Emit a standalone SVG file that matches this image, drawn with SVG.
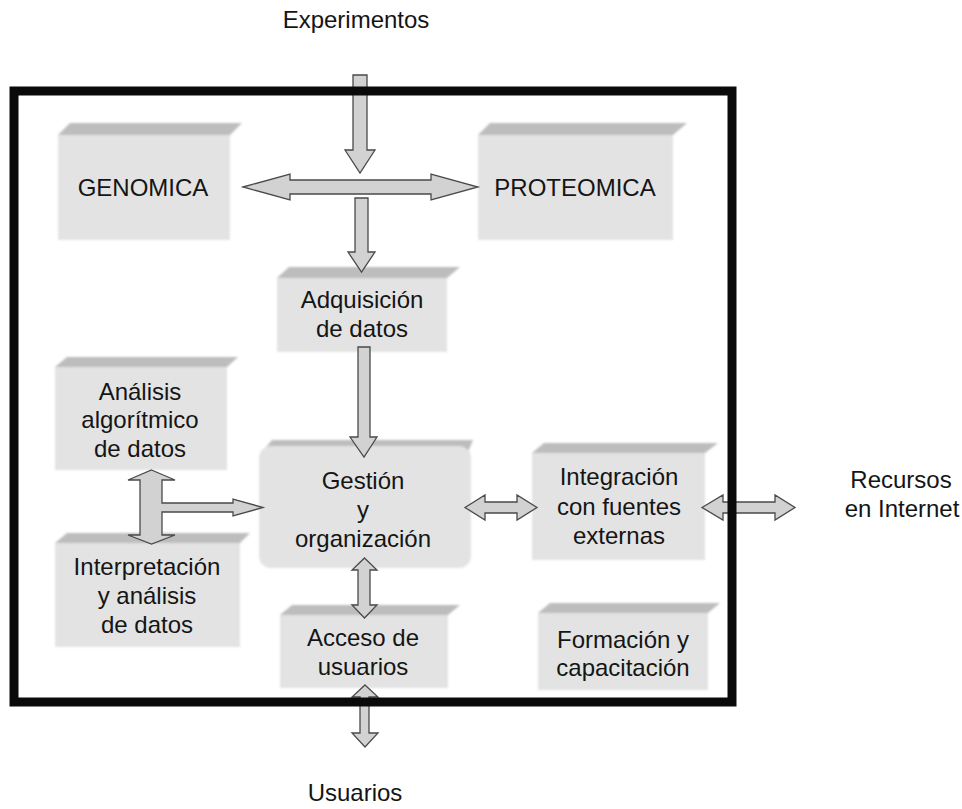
<svg xmlns="http://www.w3.org/2000/svg" width="962" height="809" viewBox="0 0 962 809">
<style>
  .front { fill: #e3e3e3; }
  .top { fill: #bdbdbd; }
  .arrow { fill: #d2d2d2; stroke: #4a4a4a; stroke-width: 1.3; stroke-linejoin: miter; }
  text { font-family: "Liberation Sans", Arial, sans-serif; font-size: 24px; fill: #151515; text-anchor: middle; }
</style>
<defs>
  <filter id="soft" x="-5%" y="-5%" width="110%" height="110%">
    <feGaussianBlur stdDeviation="0.8"/>
  </filter>
</defs>
<rect x="0" y="0" width="962" height="809" fill="#ffffff"/>

<g id="genomica">
  <g filter="url(#soft)">
    <polygon class="top" points="58,135 70,123 242,123 230,135"/>
    <rect class="front" x="58" y="135" width="172" height="105"/>
  </g>
  <text x="143" y="196">GENOMICA</text>
</g>

<g id="proteomica">
  <g filter="url(#soft)">
    <polygon class="top" points="478,135 490,123 687,123 673,135"/>
    <rect class="front" x="478" y="135" width="195" height="105"/>
  </g>
  <text x="575" y="196">PROTEOMICA</text>
</g>

<g id="adquisicion">
  <g filter="url(#soft)">
    <polygon class="top" points="277,278 289,267 460,267 447,278"/>
    <rect class="front" x="277" y="278" width="170" height="74"/>
  </g>
  <text x="362" y="308">Adquisición</text>
  <text x="362" y="337">de datos</text>
</g>

<g id="analisis">
  <g filter="url(#soft)">
    <polygon class="top" points="55,367 67,357 238,357 227,367"/>
    <rect class="front" x="55" y="367" width="172" height="103"/>
  </g>
  <text x="140" y="400">Análisis</text>
  <text x="140" y="428">algorítmico</text>
  <text x="140" y="457">de datos</text>
</g>

<g id="interpretacion">
  <g filter="url(#soft)">
    <polygon class="top" points="55,543 67,533 250,533 240,543"/>
    <rect class="front" x="55" y="543" width="185" height="104"/>
  </g>
  <text x="147" y="575">Interpretación</text>
  <text x="147" y="604">y análisis</text>
  <text x="147" y="633">de datos</text>
</g>

<g id="gestion">
  <g filter="url(#soft)">
    <polygon class="top" points="262,452 272,440 473,440 468,452"/>
    <rect class="front" x="259" y="446" width="212" height="122" rx="12"/>
  </g>
  <text x="363" y="489">Gestión</text>
  <text x="363" y="518">y</text>
  <text x="363" y="547">organización</text>
</g>

<g id="acceso">
  <g filter="url(#soft)">
    <polygon class="top" points="280,615 292,605 460,605 448,615"/>
    <rect class="front" x="280" y="615" width="168" height="73"/>
  </g>
  <text x="363" y="646">Acceso de</text>
  <text x="363" y="675">usuarios</text>
</g>

<g id="integracion">
  <g filter="url(#soft)">
    <polygon class="top" points="532,453 544,443 718,443 705,453"/>
    <rect class="front" x="532" y="453" width="173" height="107"/>
  </g>
  <text x="619" y="485">Integración</text>
  <text x="619" y="515">con fuentes</text>
  <text x="619" y="544">externas</text>
</g>

<g id="formacion">
  <g filter="url(#soft)">
    <polygon class="top" points="538,613 550,603 720,603 708,613"/>
    <rect class="front" x="538" y="613" width="170" height="77"/>
  </g>
  <text x="623" y="648">Formación y</text>
  <text x="623" y="676">capacitación</text>
</g>

<g id="experimentos">
  <text x="356" y="28">Experimentos</text>
</g>

<g id="recursos">
  <text x="901" y="488">Recursos</text>
  <text x="902" y="517">en Internet</text>
</g>

<g id="usuarios">
  <text x="355" y="801">Usuarios</text>
</g>

<g id="connectors">
  <polygon class="arrow" points="353,75 367,75 367,150 375,150 360,173 345,150 353,150"/>
  <polygon class="arrow" points="243,187 290,174 290,180 431,180 431,174 478,187 431,200 431,194 290,194 290,200"/>
  <polygon class="arrow" points="355,198 368,198 368,252 375,252 361.5,272 348,252 355,252"/>
  <polygon class="arrow" points="358,347 370,347 370,437 377,437 364,457 350,437 358,437"/>
  <polygon class="arrow" points="151.5,470 175,480 162,480 162,503 233,503 233,499 263,507.5 233,516 233,512 162,512 162,535 175,535 151.5,544 128,535 140,535 140,480 128,480"/>
  <polygon class="arrow" points="465,507.5 485,495 485,502 517,502 517,495 537,507.5 517,520 517,513 485,513 485,520"/>
  <polygon class="arrow" points="702,507.5 723,495 723,502 775,502 775,495 795,507.5 775,520 775,513 723,513 723,520"/>
  <polygon class="arrow" points="364.5,558 377,570 370,570 370,605 377,605 364.5,618 352,605 358,605 358,570 352,570"/>
  <polygon class="arrow" points="365,685 378,697 369,697 369,733 378,733 365,747 352,733 360,733 360,697 352,697"/>
</g>

<g id="frame">
  <rect x="14" y="91" width="718" height="611" fill="none" stroke="#0a0a0a" stroke-width="9"/>
</g>
</svg>
